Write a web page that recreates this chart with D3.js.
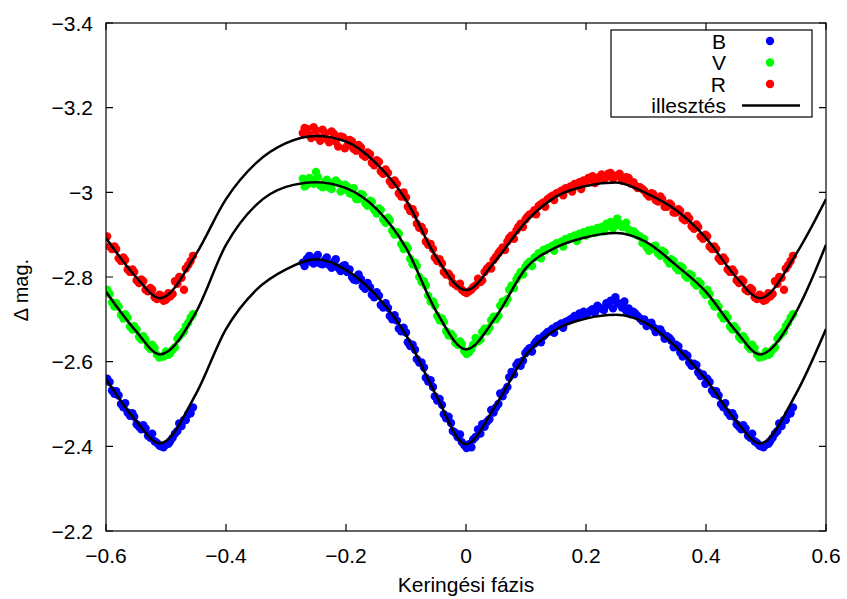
<!DOCTYPE html>
<html>
<head>
<meta charset="utf-8">
<script src="https://cdn.jsdelivr.net/npm/d3@7"></script>
<style>
    body { margin: 0; background: white; }
    text { font-family: "Liberation Sans", Arial, sans-serif; fill: black; }
</style>
</head>
<body>
<svg id="chart" width="847" height="599"></svg>
<script>

/*************************************************************************/

// observed points, first batch: shared phase list, one magnitude list per filter
var phase = [-0.272,-0.265,-0.258,-0.250,-0.243,-0.235,-0.228,-0.220,-0.213,-0.205,
    -0.198,-0.190,-0.183,-0.175,-0.168,-0.160,-0.153,-0.145,-0.138,-0.130,
    -0.123,-0.115,-0.108,-0.100,-0.093,-0.085,-0.078,-0.070,-0.063,-0.055,
    -0.048,-0.040,-0.033,-0.025,-0.018,-0.010,-0.003,0.005,0.012,0.020,
    0.027,0.035,0.042,0.050,0.057,0.065,0.072,0.080,0.087,0.095,
    0.102,0.110,0.117,0.125,0.132,0.140,0.147,0.155,0.162,0.170,
    0.177,0.185,0.192,0.200,0.207,0.215,0.222,0.230,0.237,0.245,
    0.252,0.260,0.267,0.275,0.282,0.290,0.297,0.305,0.312,0.320,
    0.327,0.335,0.342,0.350,0.357,0.365,0.372,0.380,0.387,0.395,
    0.402,0.410,0.417,0.425,0.432,0.440,0.447,0.455,0.462,0.470,
    0.477,0.485,0.492,0.500,0.507,0.515,0.522,0.530,0.537,0.545];

var magB = [-2.834,-2.843,-2.836,-2.846,-2.832,-2.840,-2.828,-2.836,-2.822,-2.826,
    -2.812,-2.800,-2.792,-2.795,-2.772,-2.776,-2.752,-2.756,-2.728,-2.727,
    -2.700,-2.697,-2.672,-2.669,-2.637,-2.628,-2.598,-2.586,-2.553,-2.540,
    -2.508,-2.498,-2.466,-2.455,-2.432,-2.428,-2.403,-2.405,-2.416,-2.440,
    -2.452,-2.458,-2.486,-2.492,-2.525,-2.531,-2.563,-2.570,-2.598,-2.602,
    -2.626,-2.624,-2.648,-2.646,-2.664,-2.672,-2.668,-2.686,-2.680,-2.696,
    -2.702,-2.704,-2.712,-2.710,-2.720,-2.716,-2.728,-2.722,-2.735,-2.726,
    -2.740,-2.728,-2.720,-2.712,-2.714,-2.702,-2.700,-2.690,-2.682,-2.676,
    -2.668,-2.660,-2.650,-2.640,-2.622,-2.618,-2.598,-2.595,-2.575,-2.570,
    -2.560,-2.532,-2.530,-2.500,-2.502,-2.472,-2.470,-2.446,-2.450,-2.425,
    -2.430,-2.408,-2.400,-2.404,-2.412,-2.430,-2.454,-2.462,-2.476,-2.492];

var magV = [-3.032,-3.018,-3.030,-3.048,-3.016,-3.026,-3.012,-3.024,-3.022,-3.006,
    -3.014,-2.996,-2.984,-2.996,-2.975,-2.980,-2.958,-2.962,-2.936,-2.940,
    -2.910,-2.906,-2.878,-2.874,-2.843,-2.834,-2.800,-2.790,-2.756,-2.742,
    -2.708,-2.702,-2.672,-2.666,-2.645,-2.648,-2.625,-2.622,-2.640,-2.648,
    -2.670,-2.672,-2.698,-2.700,-2.732,-2.738,-2.770,-2.774,-2.802,-2.806,
    -2.830,-2.826,-2.848,-2.844,-2.862,-2.870,-2.862,-2.880,-2.872,-2.888,
    -2.892,-2.885,-2.900,-2.898,-2.906,-2.904,-2.912,-2.908,-2.920,-2.915,
    -2.938,-2.918,-2.928,-2.906,-2.904,-2.896,-2.890,-2.862,-2.872,-2.856,
    -2.862,-2.840,-2.842,-2.822,-2.826,-2.804,-2.808,-2.786,-2.790,-2.766,
    -2.770,-2.740,-2.738,-2.710,-2.712,-2.683,-2.684,-2.658,-2.660,-2.636,
    -2.640,-2.616,-2.612,-2.624,-2.620,-2.634,-2.660,-2.672,-2.692,-2.712];

var magR = [-3.140,-3.150,-3.128,-3.146,-3.122,-3.140,-3.118,-3.138,-3.108,-3.130,
    -3.110,-3.120,-3.098,-3.106,-3.084,-3.090,-3.064,-3.072,-3.044,-3.046,
    -3.018,-3.020,-2.990,-2.988,-2.956,-2.948,-2.916,-2.908,-2.876,-2.866,
    -2.838,-2.832,-2.806,-2.800,-2.782,-2.784,-2.765,-2.766,-2.776,-2.796,
    -2.792,-2.820,-2.820,-2.848,-2.862,-2.864,-2.892,-2.890,-2.918,-2.918,
    -2.942,-2.950,-2.948,-2.972,-2.966,-2.988,-2.982,-3.000,-2.993,-3.008,
    -3.002,-3.016,-3.008,-3.024,-3.030,-3.022,-3.036,-3.030,-3.044,-3.032,
    -3.040,-3.028,-3.036,-3.020,-3.016,-3.012,-3.004,-2.990,-2.996,-2.978,
    -2.984,-2.966,-2.970,-2.952,-2.956,-2.934,-2.938,-2.914,-2.918,-2.890,
    -2.896,-2.866,-2.866,-2.838,-2.840,-2.812,-2.812,-2.786,-2.790,-2.766,
    -2.770,-2.748,-2.756,-2.746,-2.754,-2.790,-2.800,-2.770,-2.828,-2.850];

// observed points, second batch
var phase2 = [-0.269,-0.261,-0.254,-0.247,-0.239,-0.232,-0.224,-0.217,-0.209,-0.202,
    -0.194,-0.187,-0.179,-0.172,-0.164,-0.157,-0.149,-0.142,-0.134,-0.127,
    -0.119,-0.112,-0.104,-0.097,-0.089,-0.082,-0.074,-0.067,-0.059,-0.052,
    -0.044,-0.037,-0.029,-0.022,-0.014,-0.007,0.001,0.009,0.016,0.024,
    0.031,0.039,0.046,0.054,0.061,0.069,0.076,0.084,0.091,0.099,
    0.106,0.114,0.121,0.129,0.136,0.144,0.151,0.159,0.166,0.174,
    0.181,0.189,0.196,0.204,0.211,0.219,0.226,0.234,0.241,0.249,
    0.256,0.264,0.271,0.279,0.286,0.294,0.301,0.309,0.316,0.324,
    0.331,0.339,0.346,0.354,0.361,0.369,0.376,0.384,0.391,0.399,
    0.406,0.414,0.421,0.429,0.436,0.444,0.451,0.459,0.466,0.474,
    0.481,0.489,0.496,0.504,0.511,0.519,0.526,0.533,0.541];

var magB2 = [-2.826,-2.850,-2.832,-2.852,-2.830,-2.846,-2.822,-2.842,-2.814,-2.828,
    -2.818,-2.794,-2.806,-2.778,-2.786,-2.758,-2.764,-2.734,-2.738,-2.708,
    -2.710,-2.678,-2.680,-2.646,-2.640,-2.606,-2.598,-2.562,-2.556,-2.518,
    -2.512,-2.476,-2.470,-2.436,-2.422,-2.410,-2.396,-2.398,-2.422,-2.430,
    -2.446,-2.464,-2.480,-2.500,-2.518,-2.540,-2.576,-2.592,-2.590,-2.620,
    -2.632,-2.642,-2.654,-2.660,-2.670,-2.678,-2.684,-2.690,-2.694,-2.700,
    -2.708,-2.714,-2.718,-2.716,-2.724,-2.732,-2.725,-2.738,-2.744,-2.752,
    -2.736,-2.742,-2.726,-2.718,-2.708,-2.696,-2.684,-2.692,-2.670,-2.676,
    -2.654,-2.656,-2.634,-2.636,-2.612,-2.614,-2.590,-2.592,-2.566,-2.548,
    -2.552,-2.524,-2.520,-2.492,-2.480,-2.478,-2.452,-2.440,-2.442,-2.420,
    -2.412,-2.402,-2.398,-2.406,-2.420,-2.436,-2.448,-2.462,-2.478];

var magV2 = [-3.014,-3.034,-3.020,-3.036,-3.012,-3.030,-3.008,-3.028,-3.002,-3.018,
    -2.998,-3.010,-2.984,-2.994,-2.968,-2.978,-2.950,-2.958,-2.928,-2.934,
    -2.900,-2.902,-2.866,-2.868,-2.830,-2.826,-2.788,-2.780,-2.742,-2.732,
    -2.698,-2.694,-2.662,-2.660,-2.640,-2.642,-2.618,-2.630,-2.656,-2.652,
    -2.678,-2.680,-2.706,-2.708,-2.742,-2.748,-2.780,-2.794,-2.812,-2.824,
    -2.836,-2.846,-2.856,-2.864,-2.868,-2.874,-2.880,-2.884,-2.890,-2.894,
    -2.898,-2.902,-2.906,-2.910,-2.912,-2.916,-2.918,-2.926,-2.930,-2.922,
    -2.926,-2.918,-2.912,-2.908,-2.898,-2.880,-2.870,-2.866,-2.874,-2.850,
    -2.858,-2.832,-2.838,-2.816,-2.822,-2.798,-2.804,-2.780,-2.784,-2.758,
    -2.760,-2.730,-2.730,-2.702,-2.704,-2.676,-2.676,-2.652,-2.652,-2.630,
    -2.632,-2.610,-2.612,-2.616,-2.628,-2.654,-2.666,-2.684,-2.704];

var magR2 = [-3.152,-3.136,-3.154,-3.130,-3.148,-3.126,-3.144,-3.120,-3.132,-3.104,
    -3.124,-3.102,-3.112,-3.088,-3.094,-3.070,-3.076,-3.050,-3.054,-3.026,
    -3.028,-2.998,-3.000,-2.966,-2.960,-2.926,-2.918,-2.884,-2.878,-2.846,
    -2.842,-2.812,-2.808,-2.786,-2.778,-2.770,-2.762,-2.770,-2.780,-2.788,
    -2.812,-2.826,-2.840,-2.856,-2.870,-2.884,-2.898,-2.910,-2.926,-2.936,
    -2.948,-2.958,-2.968,-2.976,-2.984,-2.992,-2.998,-3.004,-3.010,-3.014,
    -3.020,-3.024,-3.028,-3.034,-3.038,-3.032,-3.042,-3.036,-3.046,-3.038,
    -3.044,-3.030,-3.034,-3.024,-3.010,-3.008,-2.996,-2.998,-2.982,-2.990,
    -2.966,-2.974,-2.952,-2.960,-2.938,-2.944,-2.920,-2.924,-2.896,-2.900,
    -2.872,-2.872,-2.844,-2.846,-2.818,-2.818,-2.792,-2.794,-2.770,-2.774,
    -2.752,-2.758,-2.744,-2.762,-2.760,-2.784,-2.798,-2.820,-2.838];

// fitted light curves
var fitPhase = [-0.6,-0.55,-0.51,-0.45,-0.4,-0.35,-0.3,-0.25,-0.2,-0.15,-0.1,-0.05,
    0,0.05,0.1,0.15,0.2,0.25,0.3,0.35,0.4,0.45,0.49,0.55,0.6];
var fitB = [-2.559,-2.460,-2.407,-2.524,-2.677,-2.769,-2.818,-2.842,-2.817,-2.757,-2.663,-2.521,
    -2.405,-2.498,-2.616,-2.676,-2.702,-2.711,-2.691,-2.635,-2.558,-2.460,-2.407,-2.524,-2.677];
var fitV = [-2.765,-2.672,-2.617,-2.717,-2.876,-2.970,-3.013,-3.024,-3.010,-2.962,-2.869,-2.720,
    -2.629,-2.706,-2.821,-2.870,-2.894,-2.904,-2.883,-2.828,-2.765,-2.672,-2.617,-2.717,-2.876];
var fitR = [-2.892,-2.800,-2.750,-2.854,-2.984,-3.069,-3.116,-3.133,-3.120,-3.069,-2.982,-2.848,
    -2.769,-2.840,-2.931,-2.990,-3.015,-3.023,-2.998,-2.958,-2.892,-2.800,-2.750,-2.854,-2.984];

var xTicks = [-0.6,-0.4,-0.2,0,0.2,0.4,0.6];
var yTicks = [-3.4,-3.2,-3.0,-2.8,-2.6,-2.4,-2.2];

var series = [
    { name: 'B', color: '#0000ff', mag: magB.concat(magB2), fit: fitB },
    { name: 'V', color: '#00ff00', mag: magV.concat(magV2), fit: fitV },
    { name: 'R', color: '#ff0000', mag: magR.concat(magR2), fit: fitR }
];
var allPhase = phase.concat(phase2);

/*************************************************************************/

var pLeft = 106, pRight = 826, pTop = 23, pBottom = 531;

var svg = d3.select('#chart');

var x = d3.scaleLinear().domain([-0.6, 0.6]).range([pLeft, pRight]);
var y = d3.scaleLinear().domain([-2.2, -3.4]).range([pBottom, pTop]);

var fmt = d3.format('~g');

svg.append('clipPath').attr('id', 'clip')
    .append('rect')
    .attr('x', pLeft).attr('y', pTop)
    .attr('width', pRight - pLeft).attr('height', pBottom - pTop);

var plot = svg.append('g').attr('clip-path', 'url(#clip)');

// points past phase 0.4 are shown once more one cycle earlier
series.forEach(function(s){
    var pts = [];
    allPhase.forEach(function(p, i){
        pts.push([p, s.mag[i]]);
        if (p >= 0.4) pts.push([p - 1, s.mag[i]]);
    });
    plot.append('g')
        .selectAll('circle')
        .data(pts)
        .enter().append('circle')
        .attr('cx', d => x(d[0]))
        .attr('cy', d => y(d[1]))
        .attr('r', 4.2)
        .style('fill', s.color);
});

var line = d3.line()
    .x(d => x(d[0]))
    .y(d => y(d[1]))
    .curve(d3.curveMonotoneX);

series.forEach(function(s){
    plot.append('path')
        .datum(fitPhase.map((p, i) => [p, s.fit[i]]))
        .attr('d', line)
        .style('fill', 'none')
        .style('stroke', 'black')
        .style('stroke-width', 2.5);
});

/*************************************************************************/

// frame, ticks on all four sides (mirrored)
var tick = 7;

var axes = svg.append('g').style('stroke', 'black').style('stroke-width', 1.2);

axes.selectAll('.xt')
    .data(xTicks)
    .enter().append('path')
    .attr('d', d => 'M' + x(d) + ',' + pBottom + 'v' + (-tick) + 'M' + x(d) + ',' + pTop + 'v' + tick);

axes.selectAll('.yt')
    .data(yTicks)
    .enter().append('path')
    .attr('d', d => 'M' + pLeft + ',' + y(d) + 'h' + tick + 'M' + pRight + ',' + y(d) + 'h' + (-tick));

axes.append('rect')
    .attr('x', pLeft).attr('y', pTop)
    .attr('width', pRight - pLeft).attr('height', pBottom - pTop)
    .style('fill', 'none');

svg.append('g').selectAll('text')
    .data(xTicks)
    .enter().append('text')
    .attr('x', d => x(d))
    .attr('y', 563)
    .attr('text-anchor', 'middle')
    .style('font-size', '21px')
    .text(d => fmt(d));

svg.append('g').selectAll('text')
    .data(yTicks)
    .enter().append('text')
    .attr('x', 93)
    .attr('y', d => y(d) + 7.5)
    .attr('text-anchor', 'end')
    .style('font-size', '21px')
    .text(d => fmt(d));

svg.append('text')
    .attr('x', 466).attr('y', 592)
    .attr('text-anchor', 'middle')
    .style('font-size', '21px')
    .text('Keringési fázis');

svg.append('text')
    .attr('transform', 'translate(28,290) rotate(-90)')
    .attr('text-anchor', 'middle')
    .style('font-size', '20px')
    .text('Δ mag.');

/*************************************************************************/

// legend
var legend = svg.append('g');

legend.append('rect')
    .attr('x', 611).attr('y', 30)
    .attr('width', 201).attr('height', 87)
    .style('fill', 'white')
    .style('stroke', 'black')
    .style('stroke-width', 1.2);

var rows = series.map(s => ({ name: s.name, color: s.color })).concat([{ name: 'illesztés', color: null }]);

rows.forEach(function(r, i){
    var cy = 41 + i * 21.5;
    legend.append('text')
        .attr('x', 726).attr('y', cy + 7.5)
        .attr('text-anchor', 'end')
        .style('font-size', '21px')
        .text(r.name);
    if (r.color) {
        legend.append('circle')
            .attr('cx', 770).attr('cy', cy)
            .attr('r', 4.2)
            .style('fill', r.color);
    } else {
        legend.append('line')
            .attr('x1', 742).attr('x2', 800)
            .attr('y1', cy).attr('y2', cy)
            .style('stroke', 'black')
            .style('stroke-width', 2.5);
    }
});

/*************************************************************************/
</script>
</body>
</html>
